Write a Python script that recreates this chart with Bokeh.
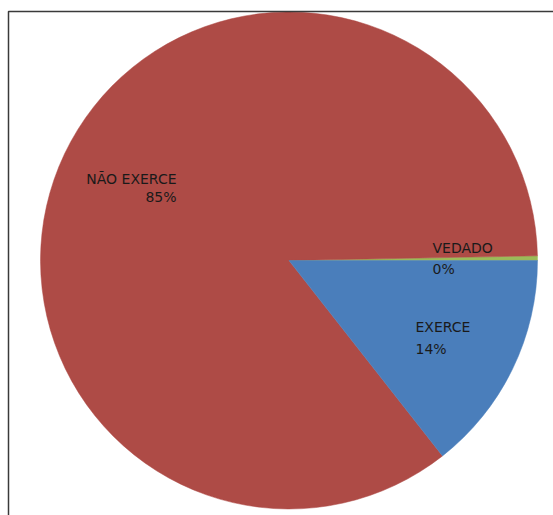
import numpy as np
from bokeh.plotting import figure
from bokeh.models import Range1d, ColumnDataSource
from bokeh.core.properties import value
from bokeh.embed import file_html
from bokeh.resources import INLINE

categories = ["VEDADO", "NÃO EXERCE", "EXERCE"]
shares = [0.3, 85.3, 14.4]
colors = ["#9BBB59", "#AE4B46", "#4A7EBB"]

W, H = 553, 515
p = figure(width=W, height=H, output_backend="svg", toolbar_location=None,
           x_range=Range1d(0, W), y_range=Range1d(0, H), min_border=0,
           background_fill_color="white", border_fill_color="white")
p.axis.visible = False
p.grid.visible = False
p.outline_line_color = None

vals = np.array(shares, dtype=float)
frac = vals / vals.sum()
ends = np.cumsum(frac) * 2 * np.pi
starts = np.concatenate([[0.0], ends[:-1]])

cx, cy, r = 288.5, H - 260, 248.5
src = ColumnDataSource(dict(start=starts, end=ends, color=colors, cat=categories))
p.wedge(x=cx, y=cy, radius=r, start_angle="start", end_angle="end",
        fill_color="color", line_color="color", line_width=0.5, source=src)

# frame
p.quad(left=[8], right=[W + 30], top=[H - 11], bottom=[-30], fill_color=None,
       line_color="#3a3a3a", line_width=1.5)

pct = [f"{round(v)}%" for v in frac * 100]
# label anchor positions (pixels)
lab_x = [432, 176, 415]
lab_y1 = [H - 247, H - 178, H - 326]
lab_y2 = [H - 268, H - 196, H - 348]
aligns = ["left", "right", "left"]
for i in range(3):
    p.text(x=[lab_x[i]], y=[lab_y1[i]], text=[categories[i]], text_align=aligns[i],
           text_baseline="middle", text_font=value("DejaVu Sans"),
           text_font_size="14px", text_color="#1a1a1a")
    p.text(x=[lab_x[i]], y=[lab_y2[i]], text=[pct[i]], text_align=aligns[i],
           text_baseline="middle", text_font=value("DejaVu Sans"),
           text_font_size="14px", text_color="#1a1a1a")

open("out.html", "w").write(file_html(p, INLINE))
